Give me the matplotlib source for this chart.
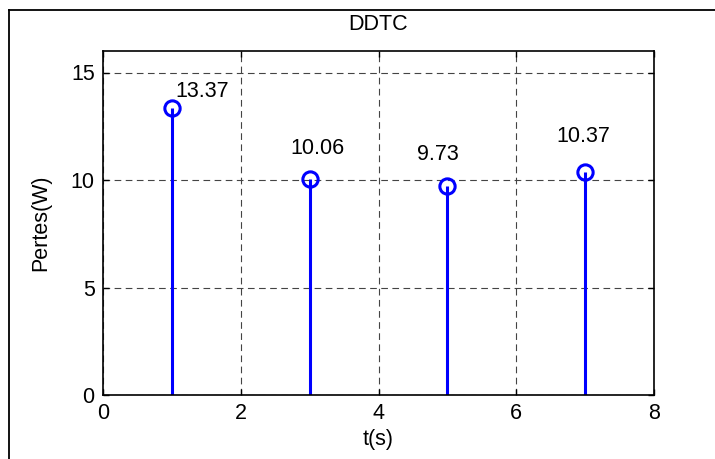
import matplotlib
matplotlib.use("Agg")
import matplotlib.pyplot as plt
from matplotlib.lines import Line2D

plt.rcParams['font.family'] = ['Liberation Sans', 'DejaVu Sans']

# donnees
t = [1, 3, 5, 7]
pertes = [13.37, 10.06, 9.73, 10.37]
labels = ['13.37', '10.06', '9.73', '10.37']
xticks = [0, 2, 4, 6, 8]
yticks = [0, 5, 10, 15]

# decalage des etiquettes (pixels)
offsets = [(30, 16), (8, 30), (-10, 31), (-2, 36)]

fs = 15.5

fig = plt.figure(figsize=(7.15, 4.59), dpi=100)
ax = fig.add_axes([103 / 715, 1 - 395 / 459, 551 / 715, 344 / 459])

markerline, stemlines, baseline = ax.stem(t, pertes, basefmt=' ')
markerline.set_marker('o')
markerline.set_markerfacecolor('none')
markerline.set_markeredgecolor('#0000ff')
markerline.set_markeredgewidth(2.2)
markerline.set_markersize(11)
stemlines.set_color('#0000ff')
stemlines.set_linewidth(2.2)

for xi, yi, lab, off in zip(t, pertes, labels, offsets):
    ax.annotate(lab, (xi, yi), xytext=off, textcoords='offset pixels',
                ha='center', va='center', fontsize=fs)

ax.set_xlim(0, 8)
ax.set_ylim(0, 16)
ax.set_xticks(xticks)
ax.set_yticks(yticks)
ax.grid(True, color='#444444', linestyle=(0, (6, 4)), linewidth=0.8)
ax.set_axisbelow(True)
ax.tick_params(direction='in', top=True, right=True, length=4, width=1,
               labelsize=fs, pad=6)
for s in ax.spines.values():
    s.set_linewidth(1.2)

ax.set_title('DDTC', fontsize=fs, pad=15)
ax.set_xlabel('t(s)', fontsize=fs, labelpad=3)
ax.set_ylabel('Pertes(W)', fontsize=fs, labelpad=14)

# cadre de la figure
fig.add_artist(Line2D([8.5 / 715, 8.5 / 715], [0, 1 - 10 / 459],
                      transform=fig.transFigure, color='k', linewidth=1.3))
fig.add_artist(Line2D([8.5 / 715, 1], [1 - 10 / 459, 1 - 10 / 459],
                      transform=fig.transFigure, color='k', linewidth=1.3))

fig.savefig('out.png', dpi=100)
